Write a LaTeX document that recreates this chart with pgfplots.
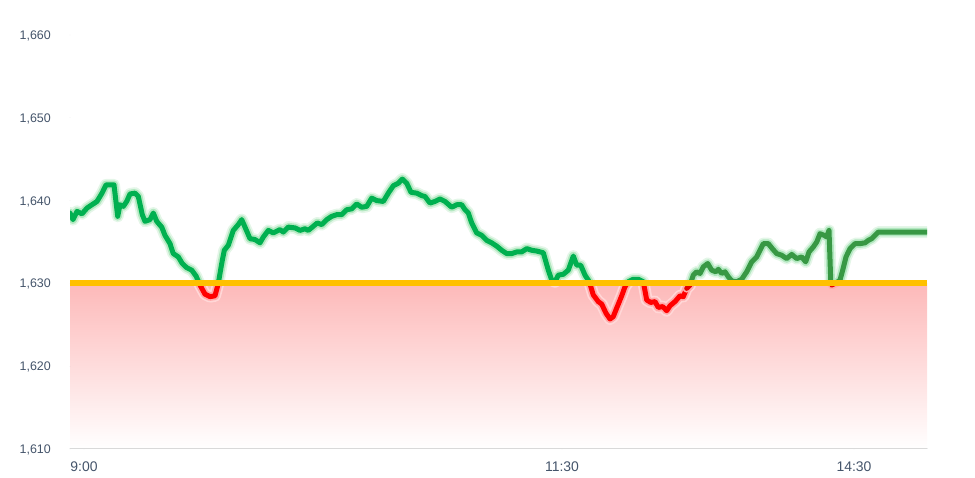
\documentclass[border=0pt]{standalone}
\usepackage{pgfplots}
\pgfplotsset{compat=1.18}
\usepackage{pgfplotstable}
\usepackage{fontspec}
\setmainfont{Liberation Sans}
\definecolor{mgreen}{RGB}{0,176,80}
\definecolor{agreen}{RGB}{56,152,68}
\definecolor{mred}{RGB}{255,0,0}
\definecolor{ared}{RGB}{228,0,0}
\definecolor{glowg1}{RGB}{228,246,232}
\definecolor{glowg2}{RGB}{178,232,192}
\definecolor{glowr1}{RGB}{255,215,215}
\definecolor{glowr2}{RGB}{255,170,170}
\definecolor{orangec}{RGB}{255,192,0}
\definecolor{pinkc}{RGB}{253,185,185}
\definecolor{labcol}{RGB}{68,84,106}
\definecolor{axgray}{RGB}{217,217,217}

\pgfplotstableread{
x y
70 1638.5
73 1637.7
77 1638.7
82 1638.4
87 1639.1
92 1639.5
97 1639.9
102 1640.9
106 1641.9
110 1641.9
114 1641.9
117.7 1638.1
120 1639.5
123.3 1639.3
126.7 1639.9
130 1640.8
135 1640.9
138.3 1640.5
142.3 1638.3
145 1637.5
150 1637.7
153.3 1638.5
156.7 1637.5
161.7 1636.8
165 1635.8
170 1634.8
173.3 1633.6
178.3 1633.2
182.3 1632.4
186.7 1631.9
191.7 1631.6
196 1630.9
200 1629.8
205 1628.7
210 1628.4
215 1628.5
218.3 1630.0
221.7 1632.4
224.3 1634.0
228.3 1634.6
233.3 1636.4
238.3 1637.1
241.7 1637.7
245 1636.8
250 1635.4
255 1635.3
260 1634.9
263.3 1635.6
268.3 1636.4
273.3 1636.1
280 1636.5
283.3 1636.2
288.3 1636.8
295 1636.7
300 1636.4
305 1636.6
308.3 1636.4
313.3 1636.9
317.3 1637.3
321.7 1637.1
326.7 1637.7
331.7 1638.1
336.7 1638.3
341.7 1638.3
346.7 1638.9
351.7 1639.0
356.7 1639.6
361.7 1639.2
366.7 1639.3
371.7 1640.3
376.7 1640.0
383.3 1639.9
388.3 1640.9
393.3 1641.8
398.3 1642.1
402.3 1642.6
406.7 1642.1
411 1641.0
416.7 1640.9
421.7 1640.6
425 1640.5
430 1639.7
435 1639.9
440 1640.2
445 1639.9
451.7 1639.2
456.7 1639.5
461.7 1639.5
465 1638.9
468.3 1638.5
471.7 1637.3
476.7 1636.1
481.7 1635.8
486.7 1635.2
491.7 1634.9
496.7 1634.5
501.7 1634.0
506.7 1633.6
511.7 1633.6
516.7 1633.8
521.7 1633.8
526.7 1634.2
531.7 1634.0
537 1633.9
543.3 1633.7
548.3 1631.6
551.7 1630.4
555 1630.2
558.3 1631.0
563.3 1631.1
568.3 1631.6
573.3 1633.3
576.7 1632.2
580.7 1632.2
585 1631.0
589.3 1630.2
593.3 1628.6
598.3 1627.8
601.7 1627.5
606 1626.4
610 1625.7
613.3 1626.0
617.3 1627.2
621.7 1628.5
625 1629.6
628.3 1630.2
633.3 1630.5
638.3 1630.5
643.3 1630.2
646.7 1628.0
650.7 1627.7
655 1627.8
658.3 1627.1
662.7 1627.2
666.7 1626.7
670 1627.3
675 1627.8
680 1628.5
683.3 1628.4
686.7 1629.4
690 1629.8
}\am

\pgfplotstableread{
x y
686.7 1629.4
690 1629.8
693.3 1631.0
696.7 1631.4
700 1631.2
703.3 1632.0
707.7 1632.4
711.7 1631.6
715.7 1631.4
718.3 1631.7
721.7 1631.2
725 1631.4
728.3 1630.8
731.7 1630.3
736.7 1630.2
741.7 1630.5
746.7 1631.4
751.7 1632.6
756.7 1633.2
760 1634.0
763.3 1634.8
768.3 1634.8
772.3 1634.2
776.7 1633.6
781.7 1633.4
786.7 1633.0
791.7 1633.5
796.7 1633.0
801.7 1633.2
805.7 1632.6
809 1633.8
813.3 1634.4
816.7 1635.0
820 1636.0
824.3 1635.8
826.7 1635.6
829 1636.4
830.7 1630.4
831.7 1629.8
836.7 1630.1
840 1630.4
842.7 1631.6
846 1633.2
850 1634.2
855 1634.8
860 1634.8
865 1634.9
868.3 1635.2
871.7 1635.4
875 1635.8
878.3 1636.2
926.7 1636.2
}\pm

\begin{document}
\begin{tikzpicture}
\path (0,0) rectangle (975bp,478bp);
\begin{axis}[
  at={(70bp,29bp)}, anchor=south west,
  scale only axis, width=857bp, height=414bp,
  xmin=70, xmax=927, ymin=1610, ymax=1660,
  axis on top,
  axis x line*=bottom, axis y line*=left,
  x axis line style={draw=axgray, line width=1bp, -},
  y axis line style={draw=none},
  major tick length=0pt,
  ytick={1610,1620,...,1660},
  xtick={84,562,854},
  xticklabels={9:00,11:30,14:30},
  /pgf/number format/assume math mode=true,
  /pgf/number format/1000 sep={,},
  yticklabel style={font=\fontsize{12.5}{14}\selectfont, text=labcol, anchor=base east, inner sep=0pt, xshift=-19bp, yshift=-4.5bp},
  xticklabel style={font=\fontsize{14}{16}\selectfont, text=labcol, anchor=north, inner sep=0pt, yshift=-13bp},
  line join=round, line cap=round,
]
\addplot[draw=none, top color=pinkc, bottom color=white, forget plot] coordinates {(70,1630) (927,1630) (927,1610) (70,1610)};

\begin{scope}
\clip (axis cs:40,1630) rectangle (axis cs:960,1670);
\addplot[glowg1, line width=12bp, forget plot] table {\am};
\addplot[glowg2, line width=8.5bp, forget plot] table {\am};
\addplot[mgreen, line width=5bp, forget plot] table {\am};
\addplot[glowg1, line width=12bp, forget plot] table {\pm};
\addplot[glowg2, line width=8.5bp, forget plot] table {\pm};
\addplot[agreen, line width=5bp, forget plot] table {\pm};
\end{scope}

\begin{scope}
\clip (axis cs:40,1600) rectangle (axis cs:960,1630);
\addplot[glowr1, line width=12bp, forget plot] table {\am};
\addplot[glowr2, line width=8.5bp, forget plot] table {\am};
\addplot[mred, line width=5bp, forget plot] table {\am};
\addplot[glowr2, line width=8.5bp, forget plot] table {\pm};
\addplot[ared, line width=5bp, forget plot] table {\pm};
\end{scope}

\addplot[orangec, line width=6bp, line cap=butt, forget plot] coordinates {(70,1630) (927,1630)};
\end{axis}
\end{tikzpicture}
\end{document}
